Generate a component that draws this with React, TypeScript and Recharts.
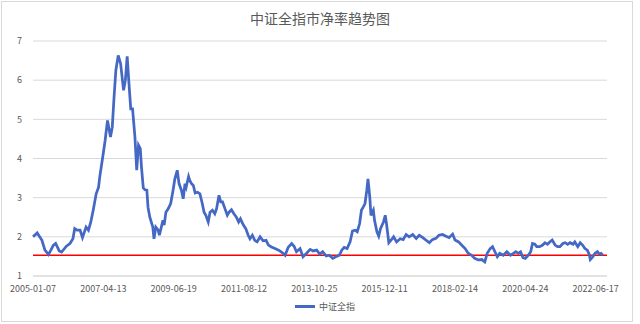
import React from 'react';
import { LineChart, Line, XAxis, YAxis, CartesianGrid, ReferenceLine } from 'recharts';

// week number since 2005-01-07 (weekly closes) and the matching P/B reading
const weeks = [
  0, 7, 15, 20, 26, 30, 34, 38, 44, 48, 56, 62, 67, 70, 74, 79, 83, 89, 93, 97,
  101, 106, 110, 112, 117, 121, 125, 128, 130, 133, 136, 139, 143, 147, 152, 155, 158, 161, 164, 167,
  171, 174, 177, 180, 182, 185, 188, 191, 193, 196, 201, 203, 206, 210, 212, 218, 220, 223, 227, 231,
  235, 238, 242, 245, 249, 252, 255, 257, 261, 263, 266, 269, 272, 276, 280, 284, 287, 290, 294, 297,
  301, 305, 308, 312, 315, 318, 322, 326, 329, 333, 337, 341, 345, 348, 353, 357, 361, 364, 368, 372,
  376, 381, 386, 391, 395, 400, 406, 412, 414, 418, 423, 428, 434, 438, 442, 448, 453, 459, 465, 470,
  476, 481, 486, 492, 497, 503, 508, 514, 518, 522, 527, 532, 536, 540, 544, 548, 551, 554, 557, 560,
  562, 565, 567, 571, 573, 577, 580, 583, 588, 591, 593, 597, 601, 605, 610, 616, 621, 626, 631, 637,
  643, 648, 654, 659, 665, 670, 676, 681, 687, 692, 698, 704, 708, 714, 719, 725, 730, 736, 741, 747,
  753, 758, 762, 767, 771, 775, 779, 783, 789, 795, 801, 806, 810, 814, 818, 822, 826, 831, 835, 838,
  842, 845, 850, 855, 859, 863, 867, 871, 876, 880, 884, 889, 893, 897, 901, 906, 909, 914, 918, 922,
  926, 930, 933, 935, 939, 943, 947, 950, 953, 956,
];

const pbRatio = [
  2.0, 2.1, 1.91, 1.66, 1.55, 1.66, 1.78, 1.83, 1.64, 1.61, 1.76, 1.83, 1.95, 2.21, 2.17, 2.17, 1.98, 2.25, 2.17, 2.38,
  2.68, 3.1, 3.27, 3.53, 4.04, 4.46, 4.97, 4.72, 4.55, 4.8, 5.57, 6.25, 6.63, 6.42, 5.74, 6.0, 6.61, 5.91, 5.27, 5.27,
  4.55, 3.7, 4.34, 4.25, 3.78, 3.25, 3.2, 3.19, 2.75, 2.5, 2.25, 1.95, 2.25, 2.17, 2.04, 2.42, 2.3, 2.63, 2.72, 2.85,
  3.19, 3.48, 3.7, 3.36, 3.19, 2.97, 3.36, 3.27, 3.54, 3.44, 3.36, 3.31, 3.12, 3.14, 3.1, 2.85, 2.63, 2.55, 2.38, 2.63,
  2.68, 2.59, 2.72, 3.06, 2.89, 2.89, 2.72, 2.55, 2.63, 2.69, 2.59, 2.51, 2.38, 2.46, 2.3, 2.21, 2.04, 1.95, 2.04, 1.91,
  1.87, 2.0, 1.9, 1.91, 1.79, 1.74, 1.7, 1.66, 1.64, 1.6, 1.53, 1.73, 1.83, 1.76, 1.62, 1.7, 1.49, 1.58, 1.68, 1.64,
  1.66, 1.56, 1.62, 1.51, 1.53, 1.45, 1.49, 1.53, 1.66, 1.73, 1.7, 1.87, 2.15, 2.17, 2.13, 2.34, 2.68, 2.76, 2.85, 3.19,
  3.48, 3.02, 2.55, 2.68, 2.42, 2.13, 2.02, 2.21, 2.38, 2.55, 2.34, 1.85, 1.92, 2.0, 1.87, 1.95, 1.93, 2.06, 2.0, 2.06,
  1.96, 2.04, 1.98, 1.92, 1.85, 1.93, 1.96, 2.04, 2.06, 2.02, 1.98, 2.07, 1.92, 1.87, 1.79, 1.7, 1.58, 1.53, 1.45, 1.41,
  1.42, 1.36, 1.58, 1.7, 1.75, 1.62, 1.49, 1.58, 1.53, 1.62, 1.53, 1.58, 1.62, 1.58, 1.62, 1.47, 1.45, 1.53, 1.62, 1.83,
  1.81, 1.75, 1.75, 1.79, 1.85, 1.81, 1.87, 1.92, 1.79, 1.75, 1.75, 1.83, 1.85, 1.81, 1.85, 1.81, 1.87, 1.75, 1.85, 1.79,
  1.7, 1.66, 1.56, 1.42, 1.49, 1.58, 1.62, 1.56, 1.58, 1.53,
];

const tickWeeks = [0, 118, 236, 354, 472, 590, 708, 826, 944];
const tickLabels = [
  '2005-01-07', '2007-04-13', '2009-06-19', '2011-08-12', '2013-10-25',
  '2015-12-11', '2018-02-14', '2020-04-24', '2022-06-17',
];
const yTicks = [1, 2, 3, 4, 5, 6, 7];
const redLevel = 1.53;
const seriesName = '中证全指';

const data = weeks.map((w, i) => ({ w, pb: pbRatio[i] }));

const FONT = '"Noto Sans CJK SC", "Noto Sans", sans-serif';
const GREY = '#595959';

const App: React.FC = () => {
  return (
    <div style={{ position: 'absolute', left: 0, top: 0, width: 640, height: 324, background: '#fff', fontFamily: FONT }}>
      <div
        style={{
          position: 'absolute', left: 1, top: 1, width: 632, height: 321,
          border: '1px solid #D9D9D9', boxSizing: 'border-box',
        }}
      />
      <div
        style={{
          position: 'absolute', left: 0, top: 7, width: 640, textAlign: 'center',
          fontSize: 14, color: GREY, lineHeight: '22px',
        }}
      >
        中证全指市净率趋势图
      </div>
      <LineChart width={640} height={324} data={data} margin={{ top: 41, right: 33, left: 0, bottom: 28 }}>
        <CartesianGrid vertical={false} stroke="#D9D9D9" strokeWidth={1} />
        <XAxis
          dataKey="w"
          type="number"
          domain={[0, 963]}
          ticks={tickWeeks}
          tickFormatter={(v: number) => tickLabels[tickWeeks.indexOf(v)] ?? ''}
          interval={0}
          height={20}
          tickLine={false}
          tickSize={0}
          tickMargin={10}
          axisLine={{ stroke: '#D9D9D9' }}
          tick={{ fill: GREY, fontSize: 9, fontFamily: FONT }}
        />
        <YAxis
          type="number"
          domain={[1, 7]}
          ticks={yTicks}
          width={33}
          axisLine={false}
          tickLine={false}
          tickSize={0}
          tickMargin={11}
          tick={{ fill: GREY, fontSize: 9, fontFamily: FONT }}
        />
        <ReferenceLine y={redLevel} stroke="#FF0000" strokeWidth={1.5} ifOverflow="extendDomain" />
        <Line
          type="linear"
          dataKey="pb"
          name={seriesName}
          stroke="#4468C4"
          strokeWidth={2.75}
          dot={false}
          isAnimationActive={false}
        />
      </LineChart>
      <div
        style={{
          position: 'absolute', left: 0, top: 300, width: 640, display: 'flex',
          justifyContent: 'center', alignItems: 'center', fontSize: 9, color: GREY,
        }}
      >
        <span style={{ display: 'inline-block', width: 20, height: 3, background: '#4468C4', marginRight: 4, marginLeft: 10 }} />
        <span>{seriesName}</span>
      </div>
    </div>
  );
};

export default App;
